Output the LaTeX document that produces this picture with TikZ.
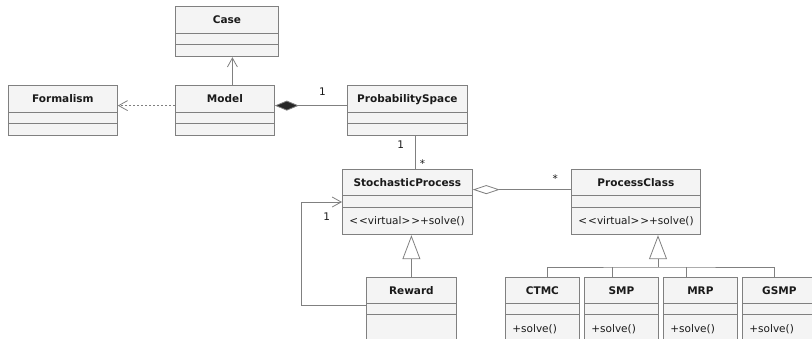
\documentclass[tikz,border=0pt]{standalone}
\usepackage{fontspec}
\setmainfont{DejaVu Sans}
\usetikzlibrary{arrows.meta, positioning, shapes.multipart}
\definecolor{UMLGRAY}{HTML}{808080}
\definecolor{UMLFILL}{HTML}{F4F4F4}
\definecolor{UMLTEXT}{HTML}{1A1A1A}
% compartments: total height, depth below the baseline, text
\newcommand{\clstitle}[3]{\hbox to \hsize{\hss\bfseries\rule[-#2pt]{0pt}{#1pt}#3\hss}}
\newcommand{\clspart}[3]{\rule[-#2pt]{0pt}{#1pt}#3}
\newcommand{\virtsolve}{<\kern1pt<virtual>\kern1pt>+solve()}

\begin{document}
\begin{tikzpicture}[x=1pt, y=-1pt,
    cls/.style={rectangle split, rectangle split parts=3, draw=UMLGRAY,
                line width=0.8pt, fill=UMLFILL, inner xsep=7pt, inner ysep=0pt,
                anchor=north west, align=left, text=UMLTEXT,
                font=\fontsize{10.5}{12}\selectfont},
    conn/.style={draw=UMLGRAY, line width=0.8pt},
    assoc/.style={conn, -{Straight Barb[length=9pt, width=10pt]}},
    dep/.style={assoc, dash pattern=on 2pt off 2pt},
    comp/.style={conn, {Diamond[length=24pt, width=10pt, fill=black!85]}-},
    aggr/.style={conn, {Diamond[open, length=27pt, width=9pt, fill=white]}-},
    gen/.style={conn, -{Triangle[open, length=24pt, width=18pt, fill=white]}},
    mult/.style={font=\fontsize{10.5}{12}\selectfont, text=UMLTEXT, inner sep=1pt}
  ]
  \useasboundingbox (0,0) rectangle (812,338);
  \clip (0,0) rectangle (812,338);

  % top row
  \node[cls, text width=89pt] (case) at (175,6)
    {\clstitle{26}{9}{Case}\nodepart{two}\clspart{10}{0}{}\nodepart{three}\clspart{12}{0}{}};
  \node[cls, text width=85pt] (model) at (175,85)
    {\clstitle{26}{9}{Model}\nodepart{two}\clspart{10}{0}{}\nodepart{three}\clspart{12}{0}{}};
  \node[cls, text width=95pt] (formalism) at (8,85)
    {\clstitle{26}{9}{Formalism}\nodepart{two}\clspart{10}{0}{}\nodepart{three}\clspart{12}{0}{}};
  \node[cls, text width=106pt] (prob) at (347,85)
    {\clstitle{26}{9}{ProbabilitySpace}\nodepart{two}\clspart{10}{0}{}\nodepart{three}\clspart{12}{0}{}};

  % middle row
  \node[cls, text width=116pt] (stoch) at (342,169)
    {\clstitle{25}{8}{StochasticProcess}\nodepart{two}\clspart{11}{0}{}\nodepart{three}\clspart{27}{10}{\virtsolve}};
  \node[cls, text width=115pt] (pclass) at (571,169)
    {\clstitle{25}{8}{ProcessClass}\nodepart{two}\clspart{11}{0}{}\nodepart{three}\clspart{27}{10}{\virtsolve}};

  % bottom row
  \node[cls, text width=76pt] (reward) at (366,277)
    {\clstitle{25}{8}{Reward}\nodepart{two}\clspart{10}{0}{}\nodepart{three}\clspart{30}{0}{}};
  \node[cls, text width=60pt] (ctmc) at (505,277)
    {\clstitle{25}{8}{CTMC}\nodepart{two}\clspart{10}{0}{}\nodepart{three}\clspart{30}{12}{+solve()}};
  \node[cls, text width=60pt] (smp) at (584,277)
    {\clstitle{25}{8}{SMP}\nodepart{two}\clspart{10}{0}{}\nodepart{three}\clspart{30}{12}{+solve()}};
  \node[cls, text width=60pt] (mrp) at (663,277)
    {\clstitle{25}{8}{MRP}\nodepart{two}\clspart{10}{0}{}\nodepart{three}\clspart{30}{12}{+solve()}};
  \node[cls, text width=60pt] (gsmp) at (742,277)
    {\clstitle{25}{8}{GSMP}\nodepart{two}\clspart{10}{0}{}\nodepart{three}\clspart{30}{12}{+solve()}};

  % connectors
  \coordinate (mtop) at ([xshift=7.5pt]model.north);
  \draw[assoc] (mtop) -- (mtop |- case.south);
  \draw[dep] ([yshift=5pt]model.west) -- ([yshift=5pt]formalism.east);
  \draw[comp] ([yshift=5pt]model.east) -- node[mult, pos=0.66, above=9pt] {1} ([yshift=5pt]prob.west);

  \coordinate (pbot) at ([xshift=8pt]prob.south);
  \draw[conn] (pbot) -- node[mult, pos=0.25, left=10pt] {1}
                        node[mult, pos=0.85, right=3pt] {*} (pbot |- stoch.north);
  \draw[aggr] ([yshift=12.5pt]stoch.east) -- node[mult, pos=0.84, above=6pt] {*} ([yshift=12.5pt]pclass.west);

  \coordinate (loopcorner) at (301,202);
  \draw[assoc] ([yshift=-28pt]reward.north west) -| (loopcorner)
    -- node[mult, pos=0.63, below=9pt] {1} (loopcorner -| stoch.west);
  \draw[gen] (reward.north) -- (reward.north |- stoch.south);

  \coordinate (bus) at (658,267);
  \draw[gen] (bus) -- (bus |- pclass.south);
  \draw[conn] ([xshift=5pt]ctmc.north) |- (bus) -| ([xshift=-5pt]gsmp.north);
  \foreach \n/\dx in {smp/-9, mrp/-14}
    \draw[conn] ([xshift=\dx pt]\n.north) -- ++(0,-10);
\end{tikzpicture}
\end{document}
